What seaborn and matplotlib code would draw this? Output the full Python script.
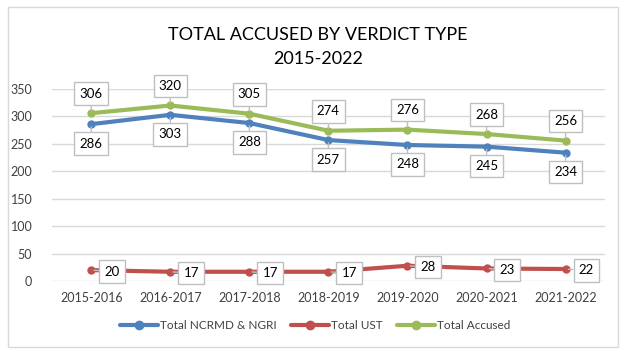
import matplotlib
matplotlib.use('Agg')
import matplotlib.pyplot as plt
import seaborn as sns
import pandas as pd
from matplotlib.lines import Line2D
from matplotlib.patches import Rectangle

years = ["2015-2016", "2016-2017", "2017-2018", "2018-2019", "2019-2020", "2020-2021", "2021-2022"]
ncrmd_ngri = [286, 303, 288, 257, 248, 245, 234]
ust = [20, 17, 17, 17, 28, 23, 22]
accused = [306, 320, 305, 274, 276, 268, 256]

series = ["Total NCRMD & NGRI", "Total UST", "Total Accused"]
colors = ["#4F81BD", "#C0504D", "#9BBB59"]

rows = []
for name, vals in zip(series, [ncrmd_ngri, ust, accused]):
    for i, v in enumerate(vals):
        rows.append({"idx": i, "value": v, "series": name})
df = pd.DataFrame(rows)

sns.set_theme(style="white")
plt.rcParams['font.family'] = ['Lato', 'DejaVu Sans']

fig = plt.figure(figsize=(6.31, 3.59), dpi=100)
ax = fig.add_axes([0.082, 0.217, 0.877, 0.535])

sns.lineplot(data=df, x="idx", y="value", hue="series", palette=dict(zip(series, colors)),
             hue_order=series, marker="o", markersize=6, markeredgewidth=0,
             linewidth=3, sort=False, legend=False, ax=ax)

ax.set_ylim(0, 350)
ax.set_xlim(-0.5, len(years) - 0.5)
ax.set_yticks(range(0, 351, 50))
ax.set_xticks(range(len(years)))
ax.set_xticklabels(years)
ax.tick_params(axis='both', labelsize=9, colors="#404040", length=0)
ax.tick_params(axis='y', pad=14)
ax.tick_params(axis='x', pad=8)
ax.set_xlabel("")
ax.set_ylabel("")
ax.yaxis.grid(True, color="#d9d9d9", linewidth=1)
ax.set_axisbelow(True)
for s in ax.spines.values():
    s.set_visible(False)

box = dict(boxstyle="square,pad=0.4", fc="white", ec="#bfbfbf", lw=1)
arrow = dict(arrowstyle="-", color="#bfbfbf", lw=1, shrinkA=0, shrinkB=2)

def label(vals, dx, dy):
    for i, v in enumerate(vals):
        ax.annotate(str(v), xy=(i, v), xytext=(dx, dy), textcoords="offset points",
                    ha="center", va="center", fontsize=9.5, color="black",
                    bbox=box, arrowprops=arrow)

label(accused, 0, 14)
label(ncrmd_ngri, 0, -14)
label(ust, 15, -1)

fig.text(0.504, 0.869, "TOTAL ACCUSED BY VERDICT TYPE\n2015-2022", ha="center", va="center",
         fontsize=13, color="black", linespacing=1.55)

handles = [Line2D([0], [0], color=c, lw=3, marker="o", markersize=6) for c in colors]
fig.legend(handles, series, loc="center", bbox_to_anchor=(0.5, 0.092), ncol=3,
           frameon=False, fontsize=8.5, handlelength=3.2, handletextpad=0.2,
           columnspacing=1.2, labelcolor="#404040")

fig.patches.append(Rectangle((0.013, 0.033), 0.966, 0.947, transform=fig.transFigure,
                             fill=False, ec="#d9d9d9", lw=1))

fig.savefig("out.png", dpi=100)
plt.close(fig)
